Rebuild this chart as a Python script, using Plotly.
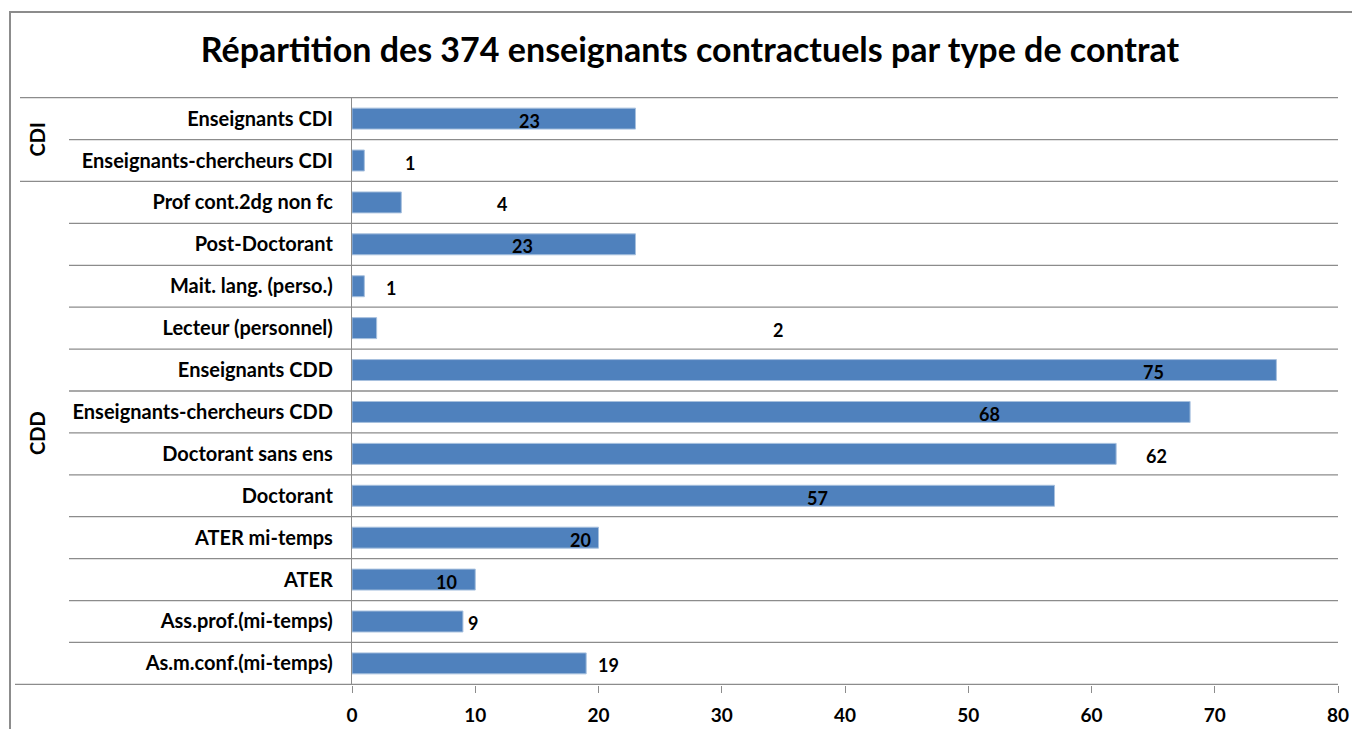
import plotly.graph_objects as go

categories = [
    "Enseignants CDI", "Enseignants-chercheurs CDI", "Prof cont.2dg non fc",
    "Post-Doctorant", "Mait. lang. (perso.)", "Lecteur (personnel)",
    "Enseignants CDD", "Enseignants-chercheurs CDD", "Doctorant sans ens",
    "Doctorant", "ATER mi-temps", "ATER", "Ass.prof.(mi-temps)",
    "As.m.conf.(mi-temps)",
]
values = [23, 1, 4, 23, 1, 2, 75, 68, 62, 57, 20, 10, 9, 19]
groups = ["CDI", "CDD"]
group_sizes = [2, 12]
# horizontal position (value units) where each data label sits in the original
label_x = [14.4, 4.7, 12.2, 13.8, 3.2, 34.6, 65.0, 51.7, 65.3, 37.8, 18.5, 7.7, 9.8, 20.8]
x_ticks = [0, 10, 20, 30, 40, 50, 60, 70, 80]

FONT = "Lato, Carlito, Calibri, sans-serif"
W, H = 1360, 729
OFF = 8  # page body margin
L, R, T, B = 352 - OFF, W - (1338 - OFF), 97 - OFF, H - (685 - OFF)
pw, ph = W - L - R, H - T - B

def px_to_paper_x(px):
    return (px - OFF - L) / pw

def px_to_paper_y(py):
    return 1 - (py - OFF - T) / ph

fig = go.Figure()
fig.add_trace(go.Bar(
    x=values, y=categories, orientation="h",
    marker=dict(color="#4F81BD", line=dict(color="#A7C0DE", width=1)),
    hoverinfo="skip",
))

annotations = []
for c, v, lx in zip(categories, values, label_x):
    annotations.append(dict(
        x=lx, y=c, xref="x", yref="y", text=str(v), showarrow=False,
        font=dict(family=FONT, size=18, color="#000000", weight="bold"),
        xanchor="center", yanchor="middle", yshift=-2,
    ))

shapes = []
n = len(categories)
group_ends = set()
start = 0
for g, s in zip(groups, group_sizes):
    group_ends.add(start + s)
    start += s
for i in range(0, n + 1):
    ypos = i - 0.5
    if i == 0:
        x0 = px_to_paper_x(20)
    elif i == n:
        x0 = px_to_paper_x(15)
    elif i in group_ends:
        x0 = px_to_paper_x(20)
    else:
        x0 = px_to_paper_x(69)
    shapes.append(dict(type="line", xref="paper", yref="y", x0=x0, x1=1,
                       y0=ypos, y1=ypos, line=dict(color="#8C8C8C", width=1.3),
                       layer="below"))

# group labels
start = 0
for g, s in zip(groups, group_sizes):
    mid = start + (s - 1) / 2
    annotations.append(dict(
        x=px_to_paper_x(37), y=mid,
        xref="paper", yref="y", text=g, showarrow=False, textangle=-90,
        font=dict(family=FONT, size=20, color="#000000", weight="bold"),
        xanchor="center", yanchor="middle",
    ))
    start += s

# outer chart frame
shapes.append(dict(type="rect", xref="paper", yref="paper",
                   x0=px_to_paper_x(10), x1=px_to_paper_x(1420),
                   y0=px_to_paper_y(800), y1=px_to_paper_y(12),
                   line=dict(color="#8C8C8C", width=2), fillcolor="rgba(0,0,0,0)",
                   layer="below"))

fig.update_layout(
    width=W, height=H,
    margin=dict(l=L, r=R, t=T, b=B),
    paper_bgcolor="white", plot_bgcolor="white",
    showlegend=False,
    bargap=0.5,
    title=dict(
        text="Répartition des 374 enseignants contractuels par type de contrat",
        x=(690 - OFF) / W, xanchor="center", y=1 - (50 - OFF) / H, yanchor="middle",
        font=dict(family=FONT, size=34, color="#000000", weight="bold"),
    ),
    xaxis=dict(
        range=[0, 80], tickvals=x_ticks, showgrid=False, zeroline=False,
        ticks="outside", ticklen=7, tickcolor="#8C8C8C", tickwidth=1.3,
        ticklabelstandoff=6,
        showline=False,
        tickfont=dict(family=FONT, size=19, color="#000000", weight="bold"),
        fixedrange=True,
    ),
    yaxis=dict(
        categoryorder="array", categoryarray=categories, autorange="reversed",
        showgrid=False, zeroline=False, showline=True, linecolor="#8C8C8C",
        linewidth=1.3, ticks="", ticklabelstandoff=14,
        tickfont=dict(family=FONT, size=20, color="#000000", weight="bold"),
        fixedrange=True,
    ),
    annotations=annotations,
    shapes=shapes,
)

fig.write_html("out.html")
